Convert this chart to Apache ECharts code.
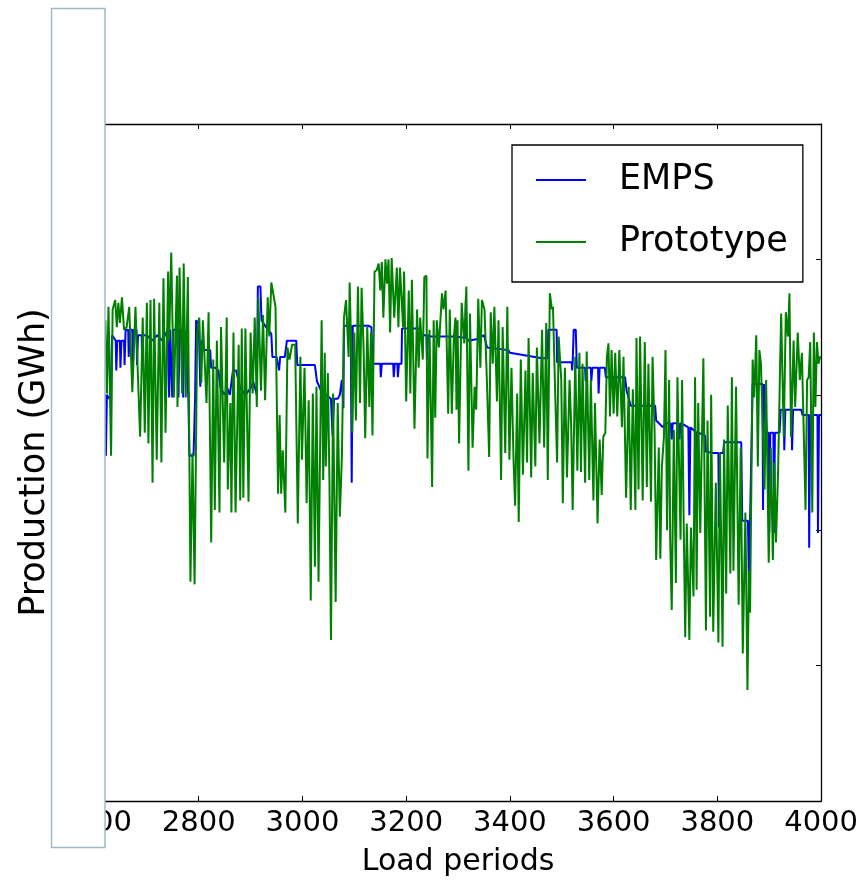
<!DOCTYPE html>
<html>
<head>
<meta charset="utf-8">
<script src="https://cdn.jsdelivr.net/npm/echarts@6/dist/echarts.min.js"></script>
<style>
  html, body { margin: 0; padding: 0; background: #fff; overflow: hidden; }
  #chart { width: 861px; height: 887px; }
</style>
</head>
<body>
<div id="chart"></div>
<script>
// ---- data ----
var xTicks = [2600, 2800, 3000, 3200, 3400, 3600, 3800, 4000];
var yTicks = [0, 100, 200, 300, 400, 500];

var protoPeriods = [2605,2620,2623,2626,2631,2634,2639,2642,2645,2648,2652,2656,2661,2666,2672,2678,2687,2692,2696,2700,2703,2707,2711,2714,2719,2724,2728,2732,2736,2741,2743,2747,2752,2758,2759,2763,2768,2771,2775,2779,2784,2788,2792,2797,2801,2805,2808,2815,2819,2824,2828,2831,2835,2840,2843,2849,2854,2856,2861,2863,2867,2871,2877,2880,2883,2886,2890,2896,2900,2904,2908,2912,2915,2920,2924,2928,2933,2936,2940,2942,2948,2953,2956,2959,2962,2967,2971,2975,2980,2986,2991,2996,2999,3004,3008,3012,3016,3020,3024,3027,3031,3037,3040,3043,3045,3049,3052,3055,3059,3064,3068,3072,3076,3080,3084,3089,3091,3094,3096,3100,3103,3107,3111,3114,3118,3121,3125,3129,3132,3135,3139,3143,3147,3150,3153,3156,3160,3163,3166,3169,3172,3177,3182,3185,3188,3194,3196,3200,3205,3208,3211,3216,3221,3224,3227,3232,3235,3239,3241,3245,3250,3253,3256,3259,3263,3269,3272,3276,3281,3284,3288,3292,3295,3297,3299,3302,3307,3312,3316,3320,3323,3328,3332,3335,3339,3343,3346,3351,3356,3360,3363,3367,3370,3375,3378,3383,3386,3391,3395,3399,3403,3407,3410,3414,3417,3421,3425,3430,3433,3436,3441,3444,3449,3452,3457,3462,3466,3470,3473,3477,3481,3483,3488,3491,3494,3499,3502,3506,3510,3515,3518,3521,3526,3530,3534,3537,3540,3545,3548,3553,3556,3561,3564,3569,3573,3577,3580,3584,3587,3590,3593,3596,3600,3603,3607,3611,3616,3619,3624,3629,3633,3637,3642,3644,3648,3651,3656,3660,3664,3667,3672,3675,3679,3682,3687,3690,3693,3697,3700,3703,3707,3709,3712,3716,3720,3723,3729,3732,3735,3738,3741,3746,3749,3754,3757,3760,3763,3767,3773,3778,3781,3786,3788,3792,3797,3802,3805,3810,3813,3817,3820,3825,3828,3831,3836,3841,3845,3849,3854,3858,3861,3863,3868,3871,3875,3878,3881,3884,3891,3894,3899,3903,3907,3910,3913,3917,3921,3923,3928,3932,3936,3939,3942,3947,3950,3955,3959,3963,3970,3973,3976,3979,3983,3986,3989,3992,3995,3998,4000];
var protoValues = [330,355,301,365,255,363,370,350,368,353,372,348,350,365,302,365,269,357,272,368,264,370,235,371,252,368,250,386,272,391,340,405,298,388,291,394,301,397,298,387,162,257,160,346,357,309,355,294,361,191,326,215,340,213,350,250,357,230,294,213,346,213,337,222,349,224,349,221,346,301,357,291,372,303,359,296,372,343,383,382,365,227,285,227,259,213,335,326,337,337,205,328,252,320,220,296,148,301,173,306,162,355,237,331,247,316,237,119,301,147,294,210,254,357,370,328,383,333,272,346,281,380,294,379,333,268,350,291,346,270,391,392,397,377,398,357,400,382,400,346,401,357,394,350,394,350,391,295,377,301,385,275,363,320,357,326,387,388,253,348,232,355,283,355,335,375,363,377,286,363,286,343,357,289,355,264,368,338,380,244,360,261,306,289,371,320,370,363,306,254,361,323,365,295,355,237,350,257,365,252,320,252,218,301,206,326,241,318,250,342,239,316,247,335,264,348,261,353,237,375,363,365,291,250,343,311,220,320,239,311,279,215,328,244,331,243,323,235,332,237,311,222,294,205,267,226,269,272,328,338,284,333,286,331,284,333,276,328,224,306,215,304,215,342,230,343,222,339,232,323,221,328,272,178,261,179,247,269,333,200,311,193,141,274,161,313,193,311,207,121,205,119,202,151,313,156,294,198,327,126,281,136,300,125,235,117,257,114,267,153,292,168,313,170,306,145,261,109,213,82,170,139,326,298,344,247,333,323,230,311,176,261,178,250,191,242,323,360,269,361,343,375,269,340,291,346,311,331,215,311,313,339,213,346,291,339,323,328,328];

var empsPeriods = [2605,2620,2621,2623,2627,2630,2633,2640,2641,2643,2648,2649,2651,2656,2657,2659,2664,2665,2667,2672,2673,2675,2680,2681,2683,2690,2691,2693,2700,2710,2720,2730,2740,2741,2743,2745,2749,2751,2760,2761,2763,2768,2770,2772,2777,2778,2780,2782,2790,2793,2795,2800,2803,2806,2810,2822,2824,2832,2838,2842,2850,2855,2860,2866,2872,2880,2890,2900,2905,2912,2914,2919,2921,2930,2940,2942,2950,2955,2957,2966,2970,2988,2990,3024,3028,3038,3045,3055,3058,3061,3068,3072,3076,3079,3080,3093,3095,3097,3127,3133,3135,3150,3151,3153,3175,3176,3178,3183,3184,3186,3191,3192,3226,3228,3239,3240,3242,3249,3296,3314,3315,3317,3320,3335,3350,3356,3397,3400,3462,3473,3474,3490,3491,3519,3520,3521,3523,3527,3529,3545,3546,3548,3556,3557,3559,3570,3571,3573,3583,3585,3622,3625,3633,3680,3682,3695,3700,3710,3712,3714,3725,3727,3729,3735,3744,3746,3748,3760,3761,3763,3776,3778,3792,3802,3803,3805,3811,3813,3846,3848,3859,3861,3863,3866,3868,3887,3888,3890,3893,3895,3899,3900,3902,3908,3909,3911,3920,3922,3928,3929,3931,3943,3944,3946,3962,3964,3976,3977,3979,3993,3994,3996,4000];
var empsValues = [300,300,255,300,297,300,344,340,318,340,340,320,340,340,322,348,348,328,348,348,320,348,348,322,344,344,320,344,344,340,344,340,348,348,298,348,298,348,348,298,348,348,298,348,340,313,298,255,255,298,355,352,306,340,333,333,320,320,318,305,300,305,300,318,318,305,300,305,310,300,380,380,355,350,345,328,328,318,328,328,340,340,322,322,310,301,300,297,270,297,297,300,311,290,351,351,235,351,351,350,323,323,313,323,323,313,323,323,313,323,323,349,349,344,344,326,344,343,343,342,370,342,340,341,344,335,333,331,327,327,348,348,324,324,318,324,348,348,320,320,310,320,320,310,320,320,301,320,320,313,313,303,292,292,281,276,279,279,267,279,279,267,279,278,276,211,276,272,245,272,270,258,257,257,202,257,257,265,265,207,207,154,207,207,308,308,215,308,308,272,272,198,272,272,198,272,272,289,289,259,289,289,259,289,289,285,285,187,285,285,198,285,285];

function pairs(xs, ys) {
  var out = [];
  for (var i = 0; i < xs.length; i++) out.push([xs[i], ys[i]]);
  return out;
}

var chart = echarts.init(document.getElementById('chart'), null, { renderer: 'canvas' });
var FONT = 'DejaVu Sans';
var spine = { show: true, onZero: false, lineStyle: { color: '#000', width: 1.3 } };
var tick = { show: true, inside: true, length: 5, lineStyle: { color: '#000', width: 1 } };
function plain(v) { return String(v); }

chart.setOption({
  animation: false,
  backgroundColor: '#fff',
  grid: { left: 95, right: 37, top: 124, bottom: 86, containLabel: false },
  xAxis: [{
    type: 'value', position: 'bottom',
    min: xTicks[0], max: xTicks[xTicks.length - 1], interval: xTicks[1] - xTicks[0],
    axisLine: spine, axisTick: tick, splitLine: { show: false },
    axisLabel: { fontSize: 29, color: '#000', fontFamily: FONT, margin: 8, formatter: plain },
    name: 'Load periods', nameLocation: 'middle', nameGap: 46,
    nameTextStyle: { fontSize: 30, color: '#000', fontFamily: FONT }
  }, {
    type: 'value', position: 'top',
    min: xTicks[0], max: xTicks[xTicks.length - 1], interval: xTicks[1] - xTicks[0],
    axisLine: spine, axisTick: tick, splitLine: { show: false },
    axisLabel: { show: false }
  }],
  yAxis: [{
    type: 'value', position: 'left',
    min: yTicks[0], max: yTicks[yTicks.length - 1], interval: yTicks[1] - yTicks[0],
    axisLine: spine, axisTick: tick, splitLine: { show: false },
    axisLabel: { show: false },
    name: 'Production (GWh)', nameLocation: 'middle', nameGap: 43, nameRotate: 90,
    nameTextStyle: { fontSize: 35, color: '#000', fontFamily: FONT }
  }, {
    type: 'value', position: 'right',
    min: yTicks[0], max: yTicks[yTicks.length - 1], interval: yTicks[1] - yTicks[0],
    axisLine: spine, axisTick: tick, splitLine: { show: false },
    axisLabel: { show: false }
  }],
  legend: {
    orient: 'vertical',
    left: 512, top: 145,
    padding: [13, 15, 18, 24],
    borderColor: '#000', borderWidth: 1.3,
    backgroundColor: '#fff',
    itemWidth: 50, itemHeight: 2, itemGap: 18,
    textStyle: { fontSize: 35, color: '#000', fontFamily: FONT, lineHeight: 44, padding: [0, 0, 0, 28] },
    data: [{ name: 'EMPS', icon: 'rect' }, { name: 'Prototype', icon: 'rect' }]
  },
  series: [{
    name: 'EMPS', type: 'line', xAxisIndex: 0, yAxisIndex: 0,
    data: pairs(empsPeriods, empsValues),
    symbol: 'none', lineStyle: { color: '#0000ff', width: 2 }, itemStyle: { color: '#0000ff' },
    z: 2
  }, {
    name: 'Prototype', type: 'line', xAxisIndex: 0, yAxisIndex: 0,
    data: pairs(protoPeriods, protoValues),
    symbol: 'none', lineStyle: { color: '#008000', width: 2 }, itemStyle: { color: '#008000' },
    z: 3
  }],
  graphic: [{
    type: 'rect', z: 100,
    shape: { x: 51.5, y: 8.5, width: 53.5, height: 839 },
    style: { fill: '#fff', stroke: '#9dbcc4', lineWidth: 1.5 }
  }]
});
</script>
</body>
</html>
